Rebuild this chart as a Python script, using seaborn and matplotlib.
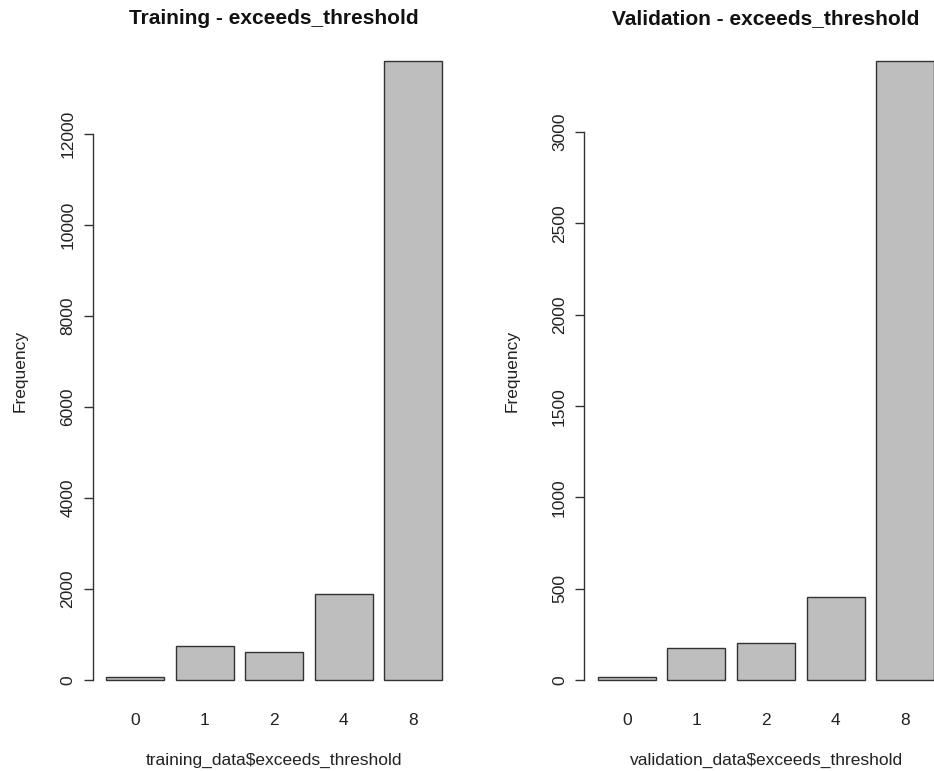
import numpy as np
import pandas as pd
import matplotlib
matplotlib.use("Agg")
import matplotlib.pyplot as plt
import seaborn as sns

# Frequency tables of exceeds_threshold for the two data splits
categories = ["0", "1", "2", "4", "8"]
training_counts = [75, 750, 620, 1905, 13610]
validation_counts = [18, 175, 206, 456, 3390]
training_ticks = [0, 2000, 4000, 6000, 8000, 10000, 12000]
validation_ticks = [0, 500, 1000, 1500, 2000, 2500, 3000]

sns.set_style("white")
plt.rcParams["font.family"] = ["Liberation Sans", "DejaVu Sans"]

W, H = 934, 771
fig = plt.figure(figsize=(W / 100, H / 100), dpi=100)
fig.patch.set_facecolor("white")

# plot regions in pixels: left edge, top, width, height
region_w, region_top, region_h = 363.4, 36.0, 669.0
lefts = [92.5, 584.3]

panels = [
    ("Training - exceeds_threshold", "training_data$exceeds_threshold",
     training_counts, training_ticks),
    ("Validation - exceeds_threshold", "validation_data$exceeds_threshold",
     validation_counts, validation_ticks),
]

axis_color = "#333333"
label_size = 12.5

for left, (title, xlabel, counts, ticks) in zip(lefts, panels):
    ax = fig.add_axes([left / W, (H - region_top - region_h) / H,
                       region_w / W, region_h / H])
    df = pd.DataFrame({"level": categories, "count": counts})
    sns.barplot(data=df, x="level", y="count", order=categories,
                color="#bebebe", saturation=1, width=1 / 1.2,
                edgecolor=axis_color, linewidth=1.0, ax=ax)

    top = max(counts)
    ax.set_ylim(-0.04 * top, 1.04 * top)
    ax.set_xlim(-0.61, 4.61)

    for side in ("top", "right", "bottom"):
        ax.spines[side].set_visible(False)
    ax.spines["left"].set_color(axis_color)
    ax.spines["left"].set_linewidth(1.0)
    ax.spines["left"].set_bounds(ticks[0], ticks[-1])

    ax.set_yticks(ticks)
    ax.set_yticklabels([str(t) for t in ticks], rotation=90, va="center",
                       fontsize=label_size)
    ax.tick_params(axis="y", length=6.5, width=1.0, color=axis_color,
                   pad=6, left=True, labelcolor="#222222")
    ax.tick_params(axis="x", length=0, pad=6, labelsize=label_size,
                   labelcolor="#222222")

    ax.set_ylabel("Frequency", fontsize=label_size, color="#222222")
    ax.yaxis.label.set_verticalalignment("center")
    ax.yaxis.set_label_coords(-0.199, 0.5)

    ax.set_xlabel(xlabel, fontsize=label_size, color="#222222")
    ax.xaxis.label.set_verticalalignment("center")
    ax.xaxis.set_label_coords(0.5, -0.0825)

    ax.set_title(title, fontsize=15, fontweight="bold", y=1 + 17 / region_h,
                 va="center", pad=0, color="#111111")
    ax.grid(False)

fig.savefig("out.png", dpi=100, facecolor="white")
